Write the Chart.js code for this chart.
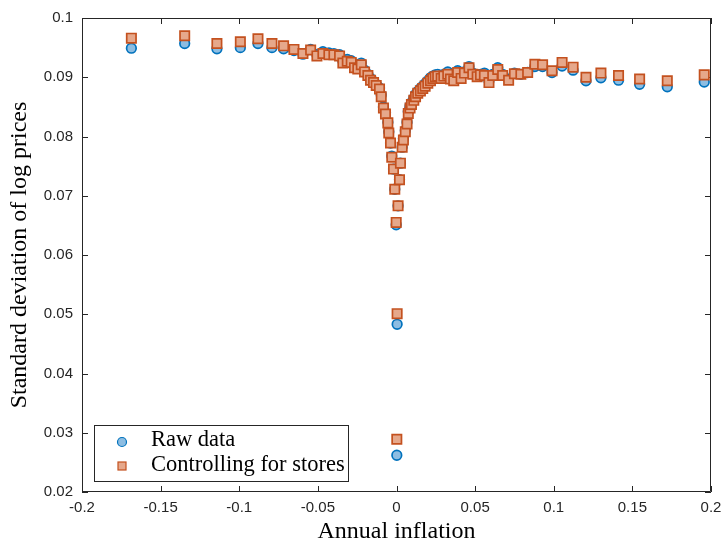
<!DOCTYPE html>
<html>
<head>
<meta charset="utf-8">
<script src="https://cdn.jsdelivr.net/npm/chart.js@4"></script>
<style>
  html, body { margin: 0; padding: 0; background: #fff; }
  #wrap { width: 724px; height: 541px; }
</style>
</head>
<body>
<div id="wrap"><canvas id="grafico" width="724" height="541"></canvas></div>
<script>
// inflacion anual (eje x), compartida por ambas series
const inflacion = [
  -0.1686, -0.1347, -0.1142, -0.0993, -0.0881, -0.0792, -0.0718, -0.0652, -0.0595, -0.0546,
  -0.0506, -0.0468, -0.0430, -0.0398, -0.0362, -0.0341, -0.0313, -0.0288, -0.0267, -0.0246,
  -0.0224, -0.0203, -0.0182, -0.0165, -0.0146, -0.0129, -0.0108, -0.0097, -0.0083, -0.0070,
  -0.0055, -0.0049, -0.0038, -0.0030, -0.0019, -0.0011, -0.0002, 0.0004, 0.0002, 0.0010,
  0.0019, 0.0025, 0.0036, 0.0044, 0.0056, 0.0067, 0.0075, 0.0086, 0.0095, 0.0110,
  0.0121, 0.0135, 0.0152, 0.0167, 0.0182, 0.0199, 0.0216, 0.0231, 0.0246, 0.0262,
  0.0284, 0.0301, 0.0326, 0.0343, 0.0364, 0.0389, 0.0411, 0.0432, 0.0461, 0.0485,
  0.0513, 0.0534, 0.0559, 0.0588, 0.0612, 0.0644, 0.0675, 0.0713, 0.0750, 0.0791,
  0.0834, 0.0880, 0.0929, 0.0989, 0.1053, 0.1123, 0.1205, 0.1300, 0.1412, 0.1546,
  0.1722, 0.1957
];

// desviacion estandar, datos crudos
const datosCrudos = [
  0.0949, 0.0957, 0.0948, 0.0950, 0.0957, 0.0950, 0.0948, 0.0945, 0.0939, 0.0947,
  0.0938, 0.0943, 0.0941, 0.0940, 0.0938, 0.0927, 0.0930, 0.0928, 0.0921, 0.0919,
  0.0924, 0.0912, 0.0905, 0.0898, 0.0893, 0.0888, 0.0882, 0.0870, 0.0850, 0.0840,
  0.0824, 0.0808, 0.0789, 0.0767, 0.0745, 0.0711, 0.0651, 0.0483, 0.0262, 0.0683,
  0.0727, 0.0755, 0.0782, 0.0796, 0.0810, 0.0824, 0.0842, 0.0851, 0.0857, 0.0864,
  0.0871, 0.0876, 0.0881, 0.0885, 0.0889, 0.0894, 0.0899, 0.0902, 0.0904, 0.0905,
  0.0902, 0.0905, 0.0909, 0.0900, 0.0899, 0.0911, 0.0902, 0.0909, 0.0918, 0.0907,
  0.0904, 0.0905, 0.0907, 0.0894, 0.0905, 0.0916, 0.0905, 0.0897, 0.0907, 0.0905,
  0.0908, 0.0918, 0.0918, 0.0908, 0.0919, 0.0912, 0.0894, 0.0899, 0.0895, 0.0888,
  0.0884, 0.0892
];

// desviacion estandar, controlando por tiendas
const conTiendas = [
  0.0966, 0.0970, 0.0957, 0.0960, 0.0965, 0.0957, 0.0953, 0.0947, 0.0940, 0.0946,
  0.0936, 0.0940, 0.0938, 0.0938, 0.0936, 0.0924, 0.0927, 0.0925, 0.0916, 0.0914,
  0.0921, 0.0909, 0.0903, 0.0895, 0.0891, 0.0886, 0.0880, 0.0867, 0.0848, 0.0838,
  0.0823, 0.0806, 0.0789, 0.0765, 0.0745, 0.0711, 0.0655, 0.0501, 0.0289, 0.0683,
  0.0727, 0.0755, 0.0782, 0.0794, 0.0808, 0.0821, 0.0839, 0.0848, 0.0854, 0.0861,
  0.0867, 0.0873, 0.0877, 0.0881, 0.0885, 0.0890, 0.0894, 0.0898, 0.0901, 0.0902,
  0.0898, 0.0902, 0.0905, 0.0897, 0.0894, 0.0908, 0.0898, 0.0907, 0.0916, 0.0905,
  0.0901, 0.0904, 0.0903, 0.0891, 0.0903, 0.0913, 0.0903, 0.0895, 0.0906, 0.0905,
  0.0908, 0.0922, 0.0921, 0.0911, 0.0925, 0.0917, 0.0900, 0.0907, 0.0903, 0.0897,
  0.0894, 0.0904
];

const xTicks = [-0.2, -0.15, -0.1, -0.05, 0, 0.05, 0.1, 0.15, 0.2];
const xTickLabels = ['-0.2', '-0.15', '-0.1', '-0.05', '0', '0.05', '0.1', '0.15', '0.2'];
const yTicks = [0.02, 0.03, 0.04, 0.05, 0.06, 0.07, 0.08, 0.09, 0.1];
const yTickLabels = ['0.02', '0.03', '0.04', '0.05', '0.06', '0.07', '0.08', '0.09', '0.1'];

const nombres = ['Raw data', 'Controlling for stores'];

const AZUL = '#0072BD';
const AZUL_RELLENO = '#8dbde2';
const NARANJA = '#C4511F';
const NARANJA_RELLENO = '#e6a88b';
const EJE = '#262626';
const SERIF = '"Liberation Serif", "DejaVu Serif", serif';
const SANS = '"Liberation Sans", Arial, sans-serif';

function puntos(ys){
  return inflacion.map((x, i) => ({ x: x, y: ys[i] }));
}

// caja y marcas hacia adentro (estilo matlab)
const marcoPlugin = {
  id: 'marco',
  beforeDatasetsDraw(chart){
    const { ctx, chartArea: a, scales } = chart;
    const largo = 6;
    ctx.save();
    ctx.strokeStyle = EJE;
    ctx.lineWidth = 1;
    ctx.beginPath();
    ctx.rect(a.left + 0.5, a.top + 0.5, a.right - a.left - 1, a.bottom - a.top - 1);
    xTicks.forEach(v => {
      const px = Math.round(scales.x.getPixelForValue(v)) + 0.5;
      ctx.moveTo(px, a.bottom); ctx.lineTo(px, a.bottom - largo);
      ctx.moveTo(px, a.top); ctx.lineTo(px, a.top + largo);
    });
    yTicks.forEach(v => {
      const py = Math.round(scales.y.getPixelForValue(v)) + 0.5;
      ctx.moveTo(a.left, py); ctx.lineTo(a.left + largo, py);
      ctx.moveTo(a.right, py); ctx.lineTo(a.right - largo, py);
    });
    ctx.stroke();
    ctx.restore();
  }
};

// leyenda dentro del area, abajo a la izquierda
const leyendaPlugin = {
  id: 'leyendaDentro',
  afterDatasetsDraw(chart){
    const { ctx, chartArea: a } = chart;
    const x0 = a.left + 12, y0 = a.bottom - 67, w = 254, h = 56;
    ctx.save();
    ctx.fillStyle = '#fff';
    ctx.fillRect(x0, y0, w, h);
    ctx.strokeStyle = EJE;
    ctx.lineWidth = 1;
    ctx.strokeRect(x0 + 0.5, y0 + 0.5, w, h);

    // marcador circulo
    ctx.beginPath();
    ctx.arc(x0 + 28, y0 + 17, 4.5, 0, Math.PI * 2);
    ctx.fillStyle = AZUL_RELLENO; ctx.fill();
    ctx.lineWidth = 1.2; ctx.strokeStyle = AZUL; ctx.stroke();

    // marcador cuadrado
    ctx.fillStyle = NARANJA_RELLENO;
    ctx.fillRect(x0 + 24, y0 + 37, 8, 8);
    ctx.strokeStyle = NARANJA;
    ctx.strokeRect(x0 + 24, y0 + 37, 8, 8);

    ctx.fillStyle = '#000';
    ctx.font = '22.5px ' + SERIF;
    ctx.textBaseline = 'middle';
    ctx.fillText(nombres[0], x0 + 57, y0 + 15);
    ctx.fillText(nombres[1], x0 + 57, y0 + 40);
    ctx.restore();
  }
};

const config = {
  type: 'scatter',
  data: {
    datasets: [
      {
        label: nombres[0],
        data: puntos(datosCrudos),
        pointStyle: 'circle',
        pointRadius: 4.8,
        borderWidth: 1.7,
        borderColor: AZUL,
        backgroundColor: AZUL_RELLENO,
        order: 1
      },
      {
        label: nombres[1],
        data: puntos(conTiendas),
        pointStyle: 'rect',
        pointRadius: 6.6,
        borderWidth: 1.7,
        borderColor: NARANJA,
        backgroundColor: NARANJA_RELLENO,
        order: 0
      }
    ]
  },
  options: {
    responsive: false,
    animation: false,
    layout: { padding: { top: 18, right: 13, left: 0, bottom: 0 } },
    scales: {
      x: {
        type: 'linear',
        min: -0.2,
        max: 0.2,
        afterBuildTicks: s => { s.ticks = xTicks.map(v => ({ value: v })); },
        afterFit: s => { s.height = 49; s.paddingLeft = 0; s.paddingRight = 0; },
        grid: { display: false, drawTicks: false },
        border: { display: false },
        ticks: {
          callback: (v, i) => xTickLabels[i],
          color: EJE,
          font: { family: SANS, size: 15 },
          padding: 7,
          maxRotation: 0
        },
        title: {
          display: true,
          text: 'Annual inflation',
          color: '#000',
          font: { family: SERIF, size: 24, lineHeight: 1 },
          padding: { top: 4, bottom: -3 }
        }
      },
      y: {
        type: 'linear',
        min: 0.02,
        max: 0.1,
        afterBuildTicks: s => { s.ticks = yTicks.map(v => ({ value: v })); },
        afterFit: s => { s.width = 82; s.paddingTop = 0; s.paddingBottom = 0; },
        grid: { display: false, drawTicks: false },
        border: { display: false },
        ticks: {
          callback: (v, i) => yTickLabels[i],
          color: EJE,
          font: { family: SANS, size: 15 },
          padding: 9
        },
        title: {
          display: true,
          text: 'Standard deviation of log prices',
          color: '#000',
          font: { family: SERIF, size: 24 },
          padding: { top: 5, bottom: 0 }
        }
      }
    },
    plugins: {
      legend: { display: false },
      tooltip: { enabled: false }
    }
  },
  plugins: [marcoPlugin, leyendaPlugin]
};

const grafico = new Chart(document.getElementById('grafico').getContext('2d'), config);
</script>
</body>
</html>
